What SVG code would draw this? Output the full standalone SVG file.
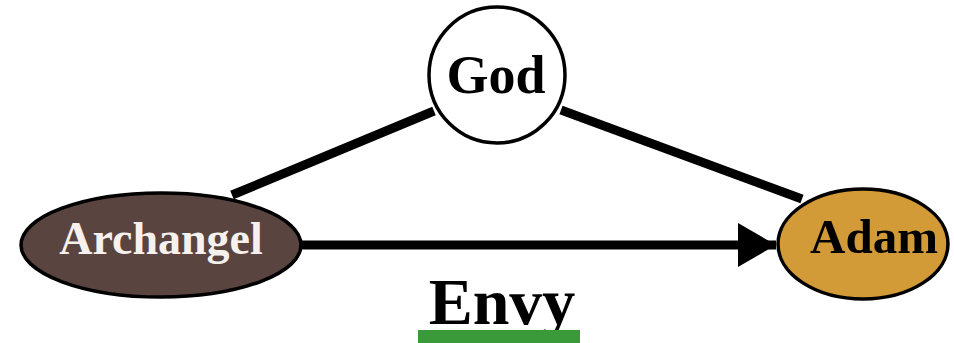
<svg xmlns="http://www.w3.org/2000/svg" width="954" height="343" viewBox="0 0 954 343">
<defs>
<style>
.lbl{font-family:"Liberation Serif","Times New Roman",serif;font-weight:bold;text-anchor:middle}
.edge{stroke:#000;stroke-width:9;fill:none}
.node{stroke:#000;stroke-width:3.5}
</style>
<marker id="ah" markerUnits="userSpaceOnUse" markerWidth="40" markerHeight="44" refX="38" refY="22" orient="auto">
<path d="M0,0 L38,22 L0,44 Z" fill="#000"/>
</marker>
</defs>
<rect width="954" height="343" fill="#fff"/>
<g id="connectors">
<line class="edge" x1="232" y1="195" x2="434" y2="111"/>
<line class="edge" x1="561" y1="110" x2="802" y2="199"/>
<line class="edge" x1="302" y1="245" x2="776" y2="245" stroke-width="12" marker-end="url(#ah)"/>
</g>
<g id="god">
<circle class="node" cx="497" cy="75" r="68" fill="#fff"/>
<text class="lbl" x="496" y="93" font-size="54" fill="#000">God</text>
</g>
<g id="archangel">
<ellipse class="node" cx="161" cy="245" rx="140" ry="52" fill="#594440"/>
<text class="lbl" x="161" y="254" font-size="46" fill="#f7f1ee">Archangel</text>
</g>
<g id="adam">
<ellipse class="node" cx="863" cy="244" rx="85" ry="55" fill="#d39b38"/>
<text class="lbl" x="874" y="253" font-size="49" fill="#000">Adam</text>
</g>
<g id="envy">
<text class="lbl" x="502" y="324" font-size="66" fill="#000">Envy</text>
<rect x="418" y="330" width="162" height="13" fill="#3a9a3a"/>
</g>
</svg>
